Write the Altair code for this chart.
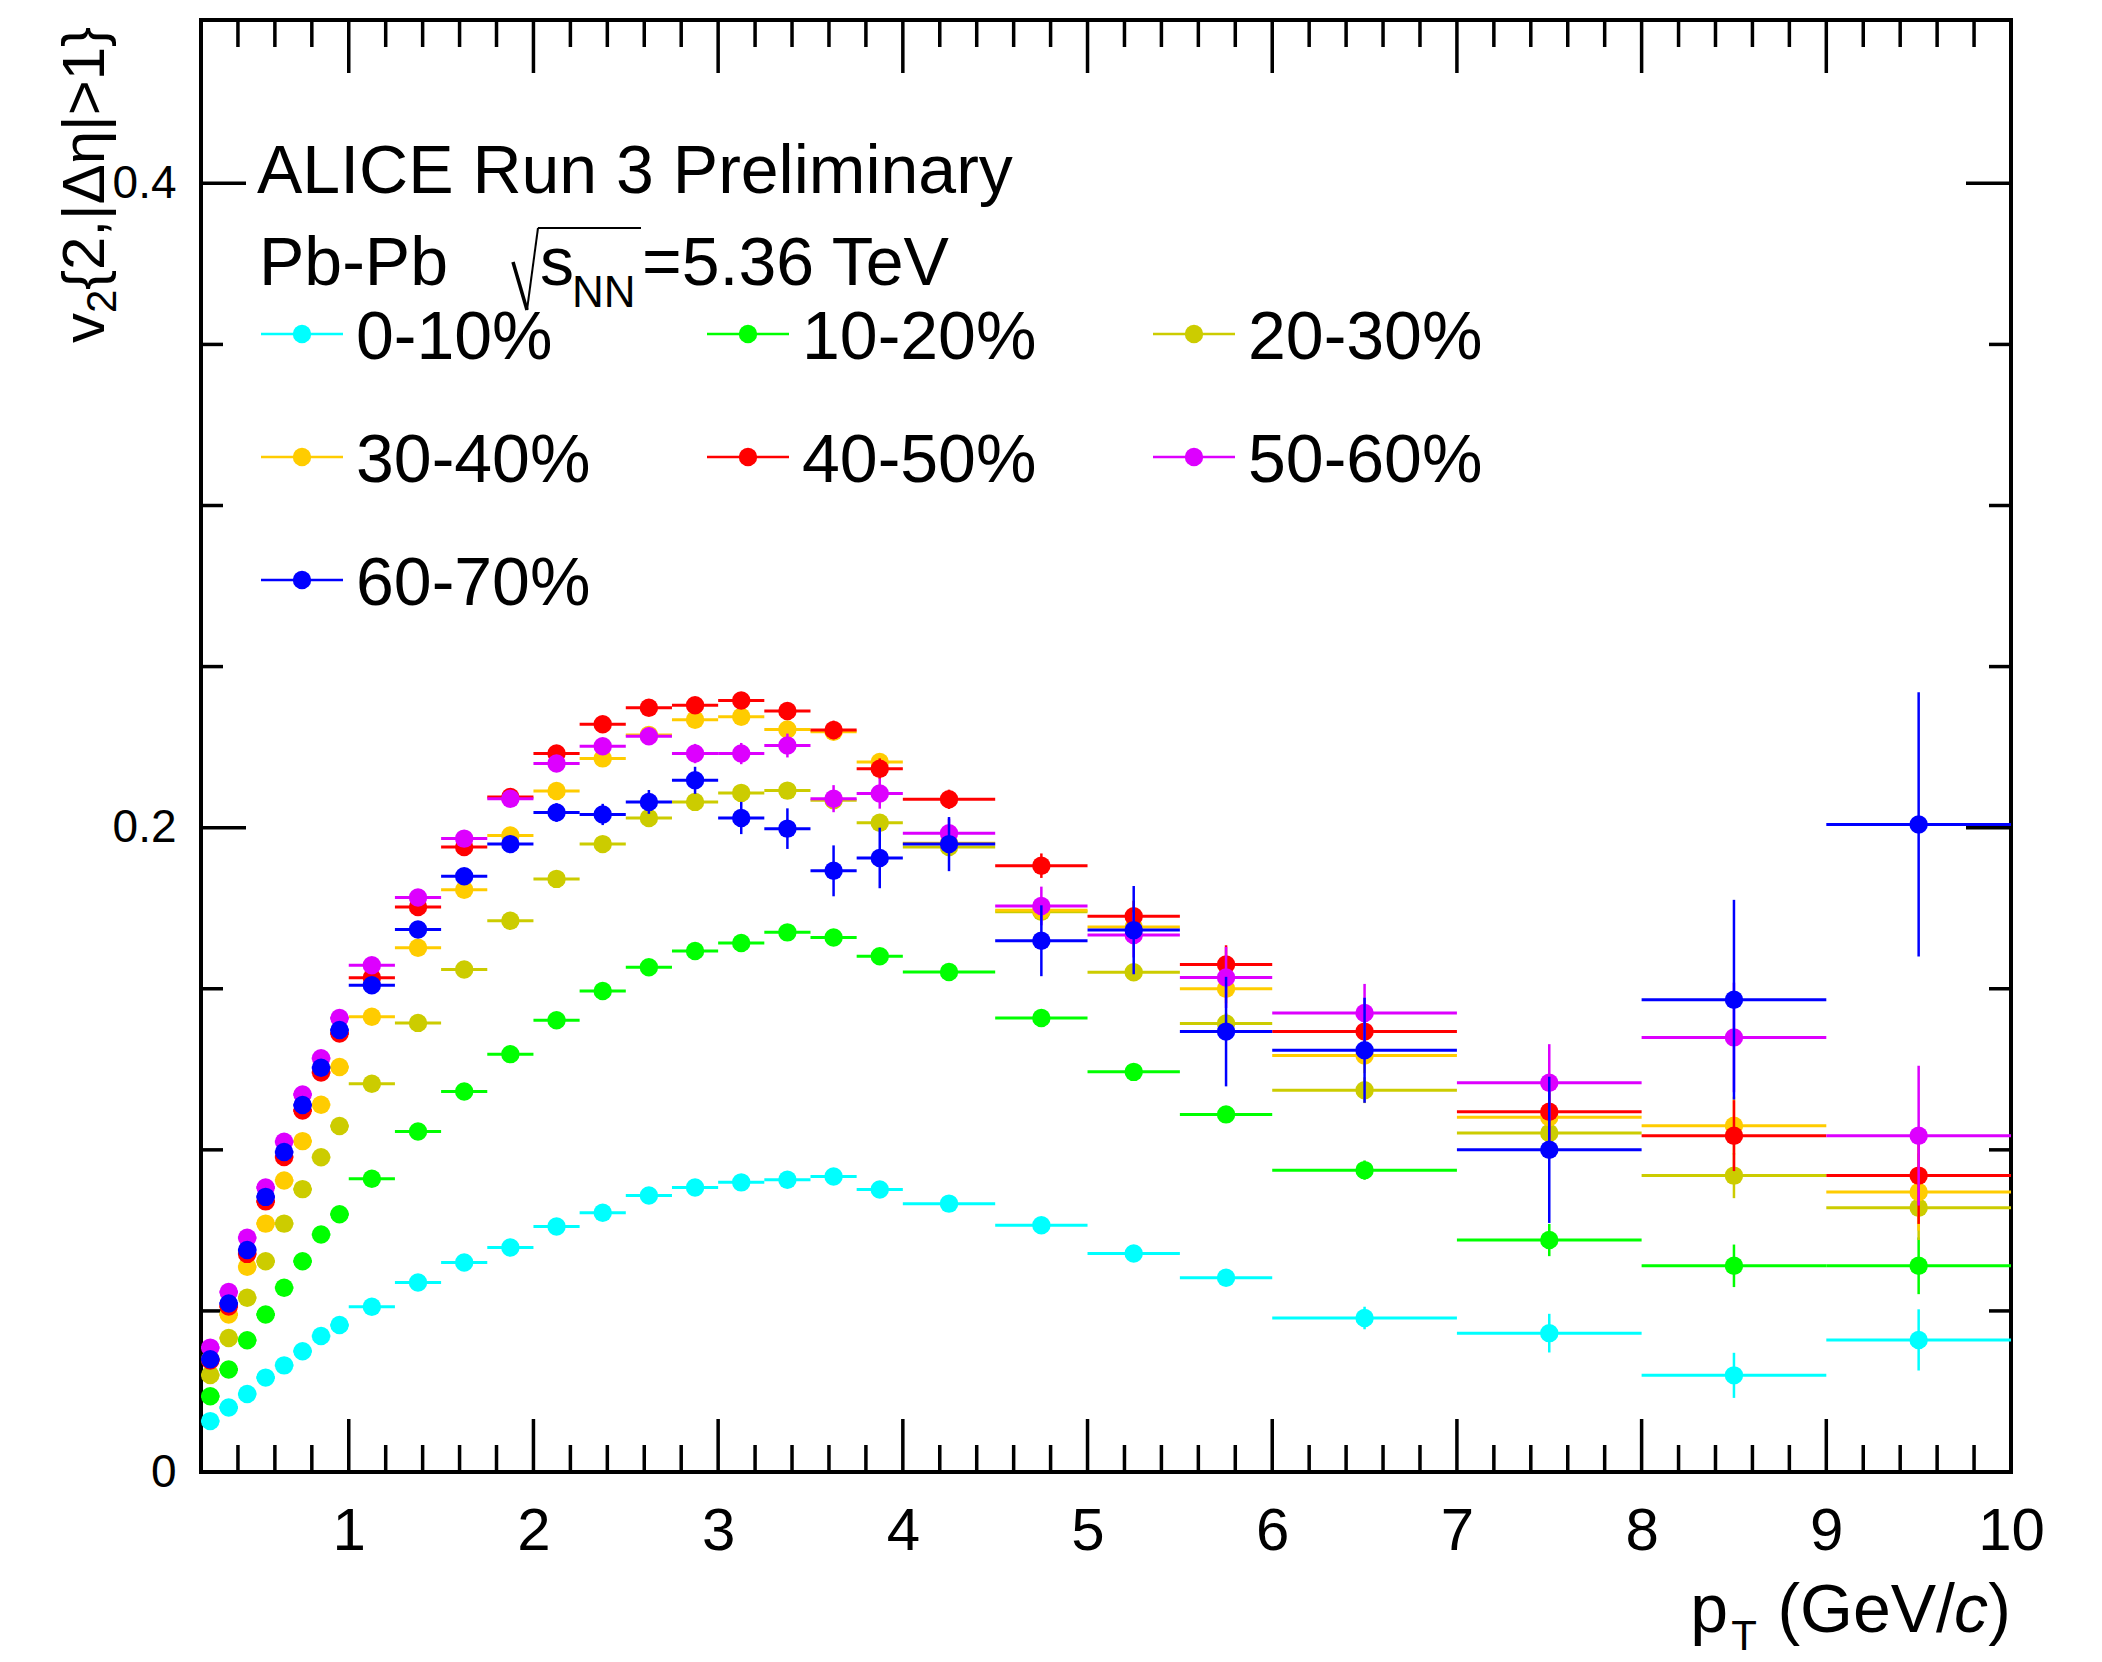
import altair as alt
import pandas as pd

FONT = "Liberation Sans"

# ---------------- data ----------------
edges = [0.2, 0.3, 0.4, 0.5, 0.6, 0.7, 0.8, 0.9, 1.0, 1.25, 1.5, 1.75, 2.0, 2.25, 2.5,
         2.75, 3.0, 3.25, 3.5, 3.75, 4.0, 4.5, 5.0, 5.5, 6.0, 7.0, 8.0, 9.0, 10.0]
pt = [0.25, 0.35, 0.45, 0.55, 0.65, 0.75, 0.85, 0.95, 1.125, 1.375, 1.625, 1.875, 2.125,
      2.375, 2.625, 2.875, 3.125, 3.375, 3.625, 3.875, 4.25, 4.75, 5.25, 5.75, 6.5, 7.5, 8.5, 9.5]

labels = ["0-10%", "10-20%", "20-30%", "30-40%", "40-50%", "50-60%", "60-70%"]
colors = ["#00ffff", "#00ff00", "#cccc00", "#ffcc00", "#ff0000", "#dd00ff", "#0000ff"]

v2_0_10 = [0.0158, 0.0200, 0.0242, 0.0293, 0.0331, 0.0375, 0.0422, 0.0456, 0.0513, 0.0588,
           0.0650, 0.0697, 0.0762, 0.0805, 0.0858, 0.0883, 0.0899, 0.0907, 0.0917, 0.0877,
           0.0833, 0.0766, 0.0678, 0.0603, 0.0478, 0.0431, 0.0300, 0.0410]
v2_10_20 = [0.0235, 0.0318, 0.0409, 0.0489, 0.0572, 0.0654, 0.0737, 0.0800, 0.0910, 0.1057,
            0.1181, 0.1297, 0.1402, 0.1493, 0.1567, 0.1617, 0.1642, 0.1675, 0.1659, 0.1601,
            0.1552, 0.1409, 0.1242, 0.1110, 0.0937, 0.0720, 0.0640, 0.0640]
v2_20_30 = [0.0301, 0.0416, 0.0541, 0.0654, 0.0771, 0.0878, 0.0977, 0.1074, 0.1205, 0.1394,
            0.1560, 0.1711, 0.1841, 0.1949, 0.2030, 0.2080, 0.2108, 0.2115, 0.2085, 0.2015,
            0.1940, 0.1739, 0.1551, 0.1392, 0.1185, 0.1052, 0.0920, 0.0820]
v2_30_40 = [0.0351, 0.0489, 0.0637, 0.0771, 0.0905, 0.1027, 0.1140, 0.1257, 0.1413, 0.1627,
            0.1807, 0.1976, 0.2114, 0.2215, 0.2288, 0.2335, 0.2344, 0.2305, 0.2298, 0.2204,
            0.1952, 0.1744, 0.1692, 0.1500, 0.1293, 0.1101, 0.1075, 0.0869]
v2_40_50 = [0.0346, 0.0514, 0.0677, 0.0840, 0.0978, 0.1122, 0.1240, 0.1361, 0.1534, 0.1754,
            0.1940, 0.2095, 0.2230, 0.2321, 0.2372, 0.2380, 0.2395, 0.2362, 0.2303, 0.2183,
            0.2088, 0.1882, 0.1725, 0.1575, 0.1367, 0.1118, 0.1044, 0.0920]
v2_50_60 = [0.0386, 0.0559, 0.0727, 0.0883, 0.1025, 0.1172, 0.1284, 0.1409, 0.1573, 0.1783,
            0.1966, 0.2090, 0.2199, 0.2253, 0.2284, 0.2230, 0.2230, 0.2255, 0.2090, 0.2106,
            0.1983, 0.1757, 0.1667, 0.1535, 0.1425, 0.1208, 0.1349, 0.1044]
v2_60_70 = [0.0350, 0.0523, 0.0689, 0.0854, 0.0993, 0.1139, 0.1255, 0.1372, 0.1511, 0.1684,
            0.1849, 0.1949, 0.2047, 0.2041, 0.2080, 0.2147, 0.2030, 0.1997, 0.1866, 0.1906,
            0.1949, 0.1649, 0.1682, 0.1367, 0.1309, 0.1000, 0.1466, 0.2010]

err_0_10 = [0.0004, 0.0004, 0.0004, 0.0004, 0.0004, 0.0004, 0.0004, 0.0005, 0.0005, 0.0005,
            0.0005, 0.0006, 0.0006, 0.0007, 0.0007, 0.0008, 0.0009, 0.0010, 0.0011, 0.0012,
            0.0012, 0.0014, 0.0018, 0.0025, 0.0035, 0.0060, 0.0070, 0.0095]
err_10_20 = [0.0004, 0.0004, 0.0004, 0.0004, 0.0004, 0.0004, 0.0005, 0.0005, 0.0005, 0.0005,
             0.0006, 0.0006, 0.0007, 0.0008, 0.0008, 0.0009, 0.0010, 0.0011, 0.0012, 0.0013,
             0.0012, 0.0015, 0.0020, 0.0025, 0.0030, 0.0050, 0.0066, 0.0088]
err_20_30 = [0.0005, 0.0005, 0.0005, 0.0005, 0.0005, 0.0005, 0.0006, 0.0006, 0.0006, 0.0007,
             0.0007, 0.0008, 0.0009, 0.0010, 0.0011, 0.0012, 0.0013, 0.0014, 0.0016, 0.0018,
             0.0016, 0.0020, 0.0026, 0.0032, 0.0040, 0.0060, 0.0070, 0.0100]
err_30_40 = [0.0006, 0.0006, 0.0006, 0.0006, 0.0006, 0.0007, 0.0007, 0.0008, 0.0008, 0.0009,
             0.0010, 0.0011, 0.0012, 0.0013, 0.0015, 0.0016, 0.0018, 0.0020, 0.0022, 0.0025,
             0.0022, 0.0028, 0.0035, 0.0045, 0.0055, 0.0075, 0.0090, 0.0120]
err_40_50 = [0.0007, 0.0007, 0.0007, 0.0008, 0.0008, 0.0009, 0.0009, 0.0010, 0.0010, 0.0011,
             0.0012, 0.0014, 0.0015, 0.0017, 0.0019, 0.0021, 0.0023, 0.0026, 0.0029, 0.0032,
             0.0030, 0.0038, 0.0048, 0.0060, 0.0070, 0.0090, 0.0110, 0.0150]
err_50_60 = [0.0009, 0.0009, 0.0009, 0.0010, 0.0010, 0.0011, 0.0012, 0.0013, 0.0013, 0.0015,
             0.0017, 0.0019, 0.0021, 0.0024, 0.0027, 0.0030, 0.0033, 0.0037, 0.0042, 0.0047,
             0.0045, 0.0060, 0.0070, 0.0095, 0.0090, 0.0120, 0.0170, 0.0217]
err_60_70 = [0.0012, 0.0012, 0.0013, 0.0013, 0.0014, 0.0015, 0.0016, 0.0017, 0.0018, 0.0020,
             0.0022, 0.0026, 0.0029, 0.0033, 0.0037, 0.0042, 0.0050, 0.0063, 0.0079, 0.0094,
             0.0084, 0.0110, 0.0137, 0.0170, 0.0163, 0.0227, 0.0310, 0.0410]

series_vals = [v2_0_10, v2_10_20, v2_20_30, v2_30_40, v2_40_50, v2_50_60, v2_60_70]
series_errs = [err_0_10, err_10_20, err_20_30, err_30_40, err_40_50, err_50_60, err_60_70]

x_major = [1, 2, 3, 4, 5, 6, 7, 8, 9, 10]
x_minor = [round(0.2 * k, 1) for k in range(2, 50) if k % 5 != 0]
y_major = [0, 0.2, 0.4]
y_minor = [0.05, 0.1, 0.15, 0.25, 0.3, 0.35]

# ---------------- layout ----------------
W, H = 1810, 1452
L0, T0 = 201, 20

xs = alt.Scale(domain=[0.2, 10], nice=False, zero=False)
ys = alt.Scale(domain=[0, 0.4507], nice=False, zero=False)
XA = alt.Axis(values=x_major, ticks=False, domain=False, grid=False, labelFont=FONT,
              labelFontSize=60, labelPadding=30, labelColor="black", title=None,
              format="d", labelFlush=False, labelOverlap=False)
YA = alt.Axis(values=y_major, ticks=False, domain=False, grid=False, labelFont=FONT,
              labelFontSize=46, labelPadding=25, labelColor="black", title=None,
              format="~g", labelFlush=False, labelOverlap=False)


def X(f):
    return alt.X(f, scale=xs, axis=XA)


def Y(f):
    return alt.Y(f, scale=ys, axis=YA)


layers = []

# tick marks (inside the frame, on all four sides)
TW = 3.5
for vals, ln in [(x_major, 53), (x_minor, 27)]:
    d = pd.DataFrame({"t": vals})
    layers.append(alt.Chart(d).mark_rule(color="black", strokeWidth=TW).encode(
        x=X("t:Q"), y=alt.value(H), y2=alt.value(H - ln)))
    layers.append(alt.Chart(d).mark_rule(color="black", strokeWidth=TW).encode(
        x=X("t:Q"), y=alt.value(0), y2=alt.value(ln)))
for vals, ln in [(y_major, 45), (y_minor, 22)]:
    d = pd.DataFrame({"t": vals})
    layers.append(alt.Chart(d).mark_rule(color="black", strokeWidth=TW).encode(
        y=Y("t:Q"), x=alt.value(0), x2=alt.value(ln)))
    layers.append(alt.Chart(d).mark_rule(color="black", strokeWidth=TW).encode(
        y=Y("t:Q"), x=alt.value(W), x2=alt.value(W - ln)))

# data series
MS = 340
for vals, errs, col in zip(series_vals, series_errs, colors):
    d = pd.DataFrame({
        "pt": pt,
        "lo": edges[:-1],
        "hi": edges[1:],
        "v": vals,
        "vlo": [v - e for v, e in zip(vals, errs)],
        "vhi": [v + e for v, e in zip(vals, errs)],
    })
    layers.append(alt.Chart(d).mark_rule(color=col, strokeWidth=3, clip=True).encode(
        x=X("lo:Q"), x2="hi:Q", y=Y("v:Q")))
    layers.append(alt.Chart(d).mark_rule(color=col, strokeWidth=2.5, clip=True).encode(
        x=X("pt:Q"), y=Y("vlo:Q"), y2="vhi:Q"))
    layers.append(alt.Chart(d).mark_circle(color=col, size=MS, opacity=1, clip=True).encode(
        x=X("pt:Q"), y=Y("v:Q")))


# ---------------- annotations ----------------
def txt(s, xf, yf, fs, angle=0, style="normal", align="left"):
    return alt.Chart(pd.DataFrame({"s": [s]})).mark_text(
        font=FONT, fontSize=fs, color="black", align=align, baseline="alphabetic",
        angle=angle, fontStyle=style).encode(
        x=alt.value(xf - L0), y=alt.value(yf - T0), text="s:N")


def seg(x1, y1, x2, y2, w):
    return alt.Chart(pd.DataFrame({"s": [0]})).mark_rule(color="black", strokeWidth=w).encode(
        x=alt.value(x1 - L0), y=alt.value(y1 - T0), x2=alt.value(x2 - L0), y2=alt.value(y2 - T0))


layers.append(txt("ALICE Run 3 Preliminary", 257, 193, 68))
layers.append(txt("Pb-Pb", 259, 285, 68))
layers.append(seg(513, 262, 527, 310, 3.5))
layers.append(seg(527, 310, 538, 228, 2))
layers.append(seg(538, 228, 641, 228, 2))
layers.append(txt("s", 540, 285, 68))
layers.append(txt("NN", 572, 307, 44))
layers.append(txt("=5.36 TeV", 642, 285, 68))

# legend
for i, (lab, col) in enumerate(zip(labels, colors)):
    mx = 302 + 446 * (i % 3)
    my = 334 + 123 * (i // 3)
    d = pd.DataFrame({"s": [lab]})
    layers.append(alt.Chart(d).mark_rule(color=col, strokeWidth=2.5).encode(
        x=alt.value(mx - 41 - L0), x2=alt.value(mx + 41 - L0), y=alt.value(my - T0)))
    layers.append(alt.Chart(d).mark_circle(color=col, size=MS, opacity=1).encode(
        x=alt.value(mx - L0), y=alt.value(my - T0)))
    layers.append(txt(lab, mx + 54, my + 25, 68))

# x title: p_T (GeV/c)
layers.append(txt(")", 2011, 1632, 68, align="right"))
layers.append(txt("c", 1988, 1632, 68, style="italic", align="right"))
layers.append(txt("(GeV/", 1955, 1632, 68, align="right"))
layers.append(txt("T", 1757, 1650, 42, align="right"))
layers.append(txt("p", 1728, 1632, 68, align="right"))

# y title: v_2{2,|Δη|>1} (rotated)
layers.append(txt("v", 104, 343, 60, angle=270))
layers.append(txt("2", 116, 313, 42, angle=270))
layers.append(txt("{2,|Δη|>1}", 104, 290, 60, angle=270))

chart = alt.layer(*layers).properties(
    width=W, height=H,
    autosize=alt.AutoSizeParams(type="none"),
    padding={"left": L0, "top": T0, "right": 2102 - L0 - W, "bottom": 1662 - T0 - H},
    background="white",
).configure_view(stroke="black", strokeWidth=4)

chart.save("out.html", embed_options={"renderer": "svg", "actions": False})
